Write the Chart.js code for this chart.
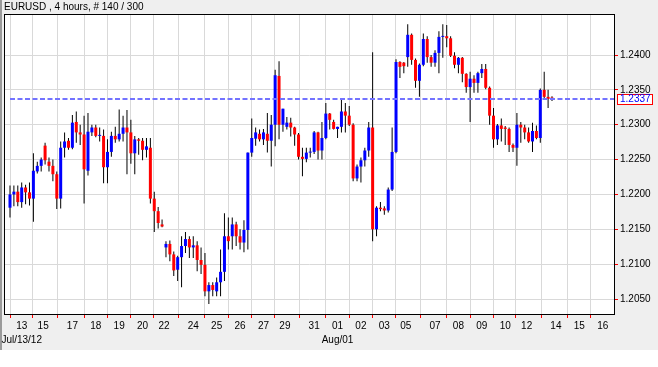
<!DOCTYPE html>
<html><head><meta charset="utf-8">
<script src="https://cdn.jsdelivr.net/npm/chart.js@4.4.0/dist/chart.umd.min.js"></script>
<style>html,body{margin:0;padding:0;background:#fff;overflow:hidden}</style>
</head><body>
<canvas id="c" width="658" height="367" style="display:block;width:658px;height:367px"></canvas>
<script>
const titleText = 'EURUSD , 4 hours, # 140 / 300';
const currentPrice = 1.2337;

const openP = [1.2181,1.2200,1.2204,1.2189,1.2210,1.2203,1.2194,1.2233,1.2241,1.2270,
1.2247,1.2241,1.2229,1.2194,1.2267,1.2277,1.2267,1.2304,1.2289,1.2286,
1.2234,1.2289,1.2296,1.2284,1.2284,1.2239,1.2261,1.2284,1.2279,1.2287,
1.2296,1.2289,1.2259,1.2279,1.2277,1.2264,1.2267,1.2194,1.2176,1.2157,
1.2124,1.2129,1.2114,1.2092,1.2110,1.2126,1.2136,1.2124,1.2127,1.2106,
1.2099,1.2061,1.2070,1.2061,1.2074,1.2089,1.2140,1.2140,1.2157,1.2140,
1.2131,1.2149,1.2260,1.2280,1.2287,1.2279,1.2287,1.2277,1.2300,1.2370,
1.2300,1.2297,1.2303,1.2296,1.2286,1.2254,1.2251,1.2260,1.2261,1.2289,
1.2263,1.2281,1.2316,1.2304,1.2294,1.2297,1.2319,1.2313,1.2300,1.2223,
1.2240,1.2249,1.2263,1.2296,1.2150,1.2181,1.2180,1.2177,1.2207,1.2261,
1.2390,1.2389,1.2397,1.2429,1.2393,1.2363,1.2386,1.2423,1.2397,1.2389,
1.2403,1.2426,1.2427,1.2424,1.2399,1.2386,1.2396,1.2373,1.2354,1.2366,
1.2360,1.2374,1.2380,1.2353,1.2313,1.2279,1.2299,1.2296,1.2294,1.2271,
1.2267,1.2300,1.2296,1.2289,1.2276,1.2291,1.2281,1.2350,1.2340,1.2339];

const highP = [1.2213,1.2213,1.2213,1.2217,1.2214,1.2217,1.2259,1.2247,1.2253,1.2274,
1.2253,1.2250,1.2233,1.2276,1.2289,1.2281,1.2314,1.2319,1.2300,1.2313,
1.2317,1.2300,1.2300,1.2296,1.2293,1.2279,1.2290,1.2297,1.2322,1.2313,
1.2321,1.2307,1.2284,1.2281,1.2281,1.2281,1.2281,1.2204,1.2182,1.2164,
1.2133,1.2134,1.2118,1.2112,1.2140,1.2146,1.2140,1.2140,1.2133,1.2124,
1.2116,1.2074,1.2074,1.2081,1.2121,1.2173,1.2167,1.2167,1.2161,1.2150,
1.2163,1.2260,1.2309,1.2296,1.2293,1.2294,1.2317,1.2314,1.2379,1.2391,
1.2323,1.2311,1.2310,1.2297,1.2288,1.2267,1.2267,1.2267,1.2291,1.2290,
1.2304,1.2331,1.2317,1.2307,1.2297,1.2336,1.2331,1.2327,1.2302,1.2243,
1.2253,1.2267,1.2304,1.2404,1.2183,1.2189,1.2183,1.2210,1.2296,1.2394,
1.2391,1.2390,1.2444,1.2431,1.2395,1.2388,1.2431,1.2427,1.2400,1.2407,
1.2434,1.2444,1.2443,1.2427,1.2404,1.2397,1.2397,1.2374,1.2376,1.2371,
1.2376,1.2387,1.2387,1.2355,1.2324,1.2301,1.2309,1.2298,1.2296,1.2273,
1.2317,1.2304,1.2300,1.2296,1.2303,1.2299,1.2352,1.2376,1.2350,1.2341];

const lowP = [1.2167,1.2183,1.2183,1.2181,1.2186,1.2184,1.2161,1.2230,1.2233,1.2243,
1.2233,1.2219,1.2179,1.2180,1.2253,1.2264,1.2265,1.2274,1.2271,1.2187,
1.2227,1.2284,1.2282,1.2276,1.2216,1.2216,1.2254,1.2274,1.2276,1.2276,
1.2229,1.2244,1.2229,1.2257,1.2249,1.2253,1.2187,1.2146,1.2151,1.2153,
1.2110,1.2104,1.2083,1.2076,1.2067,1.2116,1.2109,1.2109,1.2090,1.2086,
1.2054,1.2043,1.2054,1.2054,1.2054,1.2076,1.2121,1.2121,1.2126,1.2121,
1.2117,1.2121,1.2254,1.2270,1.2276,1.2271,1.2260,1.2240,1.2269,1.2279,
1.2290,1.2293,1.2283,1.2270,1.2250,1.2226,1.2246,1.2253,1.2258,1.2250,
1.2250,1.2279,1.2293,1.2293,1.2281,1.2289,1.2289,1.2298,1.2219,1.2219,
1.2217,1.2240,1.2254,1.2133,1.2140,1.2176,1.2171,1.2174,1.2205,1.2259,
1.2367,1.2374,1.2383,1.2386,1.2353,1.2340,1.2384,1.2389,1.2383,1.2383,
1.2374,1.2396,1.2411,1.2397,1.2381,1.2374,1.2361,1.2346,1.2304,1.2346,
1.2346,1.2367,1.2351,1.2300,1.2267,1.2271,1.2276,1.2271,1.2261,1.2261,
1.2241,1.2274,1.2279,1.2274,1.2261,1.2279,1.2274,1.2338,1.2324,1.2334];

const closeP = [1.2200,1.2204,1.2189,1.2210,1.2203,1.2194,1.2234,1.2241,1.2250,1.2249,
1.2241,1.2229,1.2194,1.2267,1.2276,1.2267,1.2303,1.2289,1.2286,1.2236,
1.2290,1.2296,1.2284,1.2285,1.2239,1.2261,1.2284,1.2279,1.2287,1.2296,
1.2289,1.2259,1.2279,1.2277,1.2264,1.2269,1.2194,1.2176,1.2159,1.2154,
1.2129,1.2114,1.2091,1.2110,1.2126,1.2136,1.2124,1.2127,1.2106,1.2099,
1.2061,1.2070,1.2063,1.2074,1.2089,1.2140,1.2133,1.2157,1.2140,1.2131,
1.2149,1.2260,1.2281,1.2289,1.2279,1.2289,1.2277,1.2300,1.2371,1.2300,
1.2323,1.2303,1.2296,1.2286,1.2254,1.2251,1.2260,1.2261,1.2289,1.2263,
1.2281,1.2316,1.2307,1.2294,1.2297,1.2319,1.2313,1.2300,1.2223,1.2240,
1.2249,1.2263,1.2296,1.2150,1.2181,1.2179,1.2177,1.2207,1.2261,1.2390,
1.2383,1.2384,1.2429,1.2393,1.2363,1.2386,1.2423,1.2397,1.2389,1.2403,
1.2426,1.2427,1.2424,1.2399,1.2386,1.2396,1.2373,1.2354,1.2366,1.2360,
1.2374,1.2380,1.2353,1.2313,1.2279,1.2299,1.2294,1.2294,1.2271,1.2267,
1.2300,1.2296,1.2289,1.2276,1.2291,1.2281,1.2350,1.2340,1.2337,1.2337];

// x-axis day ticks (positions in 4-hour bar slots) and labels
const xTickPos = [3,8.5,16,22,28,34,39.5,47,53,59,65,70.5,78,84,90,96,101.5,109,115,121,127,132.5,140,146,152];
const xTickLabels = ['13','15','17','18','19','20','22','24','25','26','27','29','31','01','02','03','05','07','08','09','10','12','14','15','16'];
const xSubLabels = ['Jul/13/12','','','','','','','','','','','','','Aug/01','','','','','','','','','','',''];
const yTicks = [1.2050,1.2100,1.2150,1.2200,1.2250,1.2300,1.2350,1.2400];
const yMin = 1.20285, yMax = 1.24574;
const xMin = -1.28, xMax = 154.9;

const FONT = '"Liberation Sans", Arial, sans-serif';
const idx = closeP.map((_, i) => i);

const bgPlugin = {
  id: 'bg',
  beforeDraw(chart) {
    const c = chart.ctx, a = chart.chartArea;
    c.save();
    c.fillStyle = '#ffffff';
    c.fillRect(0, 0, chart.width, chart.height);
    c.fillStyle = '#efefef';
    c.fillRect(0, 0, chart.width, 350);
    c.fillStyle = '#9a9a9a';
    c.fillRect(0, 0, 2, 350);
    c.fillStyle = '#ffffff';
    c.fillRect(a.left, a.top, a.right - a.left, a.bottom - a.top);
    c.fillStyle = '#000';
    c.font = '10px ' + FONT;
    c.textBaseline = 'alphabetic';
    c.textAlign = 'left';
    c.fillText(titleText, 4, 10);
    c.restore();
  },
  afterDatasetsDraw(chart) {
    const c = chart.ctx, a = chart.chartArea, ys = chart.scales.y;
    const py = Math.round(ys.getPixelForValue(currentPrice));
    c.save();
    c.strokeStyle = '#7373ff';
    c.lineWidth = 2;
    c.setLineDash([5, 2.5]);
    c.beginPath();
    c.moveTo(a.left + 5, py);
    c.lineTo(a.right, py);
    c.stroke();
    c.setLineDash([]);
    c.strokeStyle = '#000';
    c.lineWidth = 1;
    c.strokeRect(a.left - 0.5, a.top - 0.5, a.right - a.left + 1, a.bottom - a.top + 1);
    // price label box
    const bx = a.right + 3, bw = 36, bh = 11;
    c.fillStyle = '#ffffff';
    c.fillRect(bx, py - 5, bw, bh);
    c.strokeStyle = '#ff0000';
    c.strokeRect(bx + 0.5, py - 5 + 0.5, bw - 1, bh - 1);
    c.fillStyle = '#0000ff';
    c.font = '10px ' + FONT;
    c.textBaseline = 'middle';
    c.textAlign = 'left';
    c.fillText(currentPrice.toFixed(4), bx + 3, py + 0.5);
    c.restore();
  }
};

new Chart(document.getElementById('c').getContext('2d'), {
  type: 'bar',
  data: {
    datasets: [
      {
        label: 'range',
        data: idx.map(i => ({ x: i, y: [lowP[i], highP[i]] })),
        backgroundColor: '#000000',
        barThickness: 1,
        grouped: false,
        inflateAmount: 0,
        borderWidth: 0,
        order: 2
      },
      {
        label: 'body',
        data: idx.map(i => ({ x: i, y: [openP[i], closeP[i]] })),
        backgroundColor: idx.map(i => closeP[i] >= openP[i] ? '#0000ff' : '#ff0000'),
        barThickness: 3,
        grouped: false,
        inflateAmount: 0,
        borderWidth: 0,
        minBarLength: 1,
        order: 1
      }
    ]
  },
  options: {
    responsive: false,
    animation: false,
    devicePixelRatio: 1,
    layout: { padding: { left: 5, top: 15, right: 0, bottom: 0 } },
    plugins: { legend: { display: false }, tooltip: { enabled: false } },
    scales: {
      x: {
        type: 'linear',
        min: xMin, max: xMax,
        offset: false,
        afterBuildTicks: s => { s.ticks = xTickPos.map(v => ({ value: v })); },
        afterFit: s => { s.height = 53; },
        grid: { color: '#d9d9d9', tickColor: '#ff0000', tickLength: 4, drawOnChartArea: true },
        border: { display: false },
        ticks: {
          autoSkip: false, maxRotation: 0, minRotation: 0, padding: 1,
          color: '#000',
          font: { family: FONT, size: 10, lineHeight: 1.4 },
          callback: (v, k) => xSubLabels[k] ? [xTickLabels[k], xSubLabels[k]] : xTickLabels[k]
        }
      },
      y: {
        position: 'right',
        min: yMin, max: yMax,
        afterBuildTicks: s => { s.ticks = yTicks.map(v => ({ value: v })); },
        afterFit: s => { s.width = 44; },
        grid: { color: '#d9d9d9', tickColor: '#ff0000', tickLength: 4, drawOnChartArea: true },
        border: { display: false },
        ticks: {
          padding: 2,
          color: '#000',
          font: { family: FONT, size: 10 },
          callback: v => Number(v).toFixed(4)
        }
      }
    }
  },
  plugins: [bgPlugin]
});
</script>
</body></html>
